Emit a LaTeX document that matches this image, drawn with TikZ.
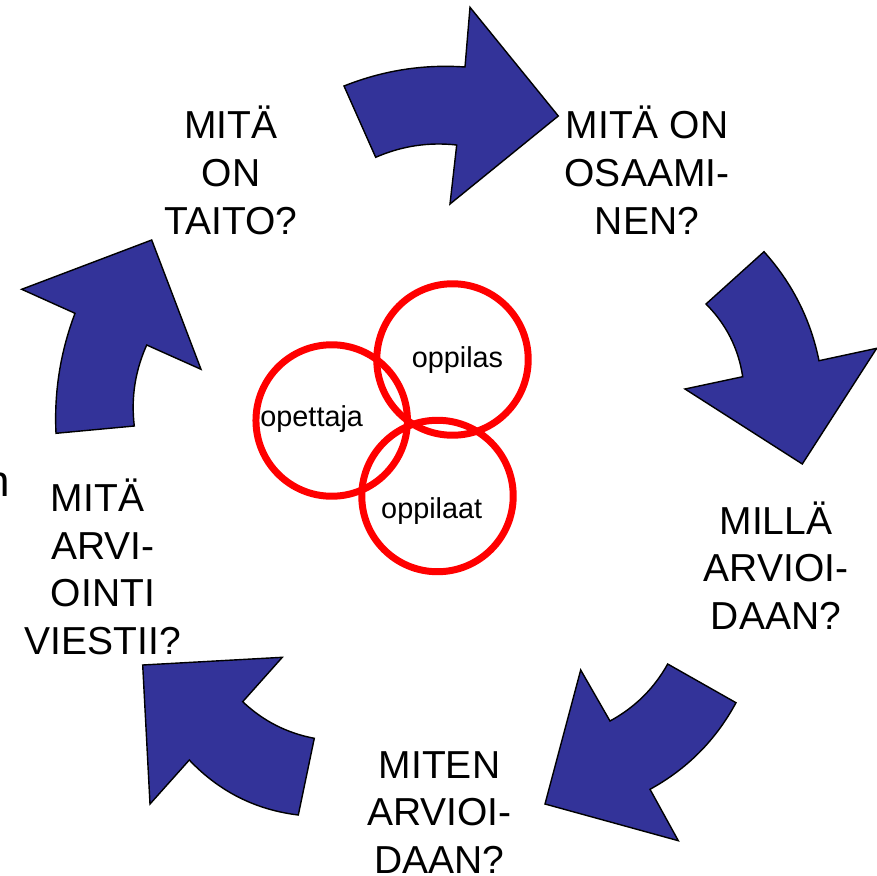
\documentclass[tikz,border=0pt]{standalone}
\usepackage{fontspec}
\setmainfont{Liberation Sans}
\definecolor{arrowblue}{HTML}{333399}
\tikzset{
  cyclearrow/.style={fill=arrowblue, draw=black, line width=0.8pt, line join=miter},
  bigq/.style={font=\fontsize{22.2}{27.1}\selectfont, align=center, inner sep=0pt, anchor=base},
  ring/.style={circle, draw=red, line width=3.97pt, minimum size=3.03cm, inner sep=0pt},
  ringlabel/.style={font=\fontsize{16.4}{19}\selectfont, inner sep=0pt, anchor=base},
}
\begin{document}
\begin{tikzpicture}[x=0.02cm,y=-0.02cm]
\useasboundingbox (0,0) rectangle (877,876);

% curved arrows
\path[cyclearrow] (344,86) .. controls (382.9,70.5) and (423.2,64.1) .. (465,67)
  -- (470,7.3) -- (558.3,116) -- (450,204) -- (456.7,145)
  .. controls (428.6,141.9) and (401.6,146.0) .. (375.7,157.3) -- cycle;
\path[cyclearrow] (764,251.7) .. controls (792.2,283.0) and (810.6,319.4) .. (819,360.7)
  -- (876.7,348.3) -- (802.3,464) -- (685,389) -- (742.7,376.7)
  .. controls (738.5,348.5) and (726.2,324.2) .. (706,304) -- cycle;
\path[cyclearrow] (667.7,664) -- (736,702.7)
  .. controls (715.8,740.1) and (687.2,768.9) .. (650,789.3)
  -- (678.3,840.7) -- (545,804) -- (580.7,670) -- (610,721)
  .. controls (634.7,707.6) and (654.0,688.6) .. (667.7,664) -- cycle;
\path[cyclearrow] (282.3,657.3) -- (142.7,665) -- (150,804) -- (189.3,760)
  .. controls (219.0,791.4) and (255.4,809.8) .. (298.3,815) -- (314.3,738.3)
  .. controls (286.8,733.1) and (263.0,720.9) .. (242.7,701.7) -- cycle;
\path[cyclearrow] (56,433.3) .. controls (54.0,392.0) and (60.4,352.0) .. (75,313.3)
  -- (21.7,289.3) -- (151.7,240) -- (201,369.3) -- (146.7,345)
  .. controls (135.1,370.9) and (130.9,397.9) .. (134.3,426) -- cycle;

% questions (anchored at the baseline of the last line)
\node[bigq] (taito) at (231,234.1) {MITÄ\\ON\hspace*{0.278em}\\TAITO?};
\node[bigq] (osaaminen) at (647,234.1) {MITÄ ON\\OSAAMI-\\NEN?};
\node[bigq] (milla) at (776,629.5) {MILLÄ\\ARVIOI-\\DAAN?};
\node[bigq] (miten) at (439.5,873.5) {MITEN\\ARVIOI-\\DAAN?};
\node[bigq] (viesti) at (103,654.5) {MITÄ\hspace*{0.278em}\\ARVI-\\OINTI\\VIESTII?};
\node[font=\fontsize{25}{30}\selectfont, inner sep=0pt, anchor=base east] (cutn) at (10,496.7) {n};

% rings
\node[ring] (ropettaja) at (331.7,420.5) {};
\node[ring] (roppilas) at (452.5,359.5) {};
\node[ring] (roppilaat) at (437.5,496) {};
\node[ringlabel] (lopettaja) at (311.7,426.7) {opettaja};
\node[ringlabel] (loppilas) at (457.5,367.7) {oppilas};
\node[ringlabel] (loppilaat) at (431.7,518.3) {oppilaat};
\end{tikzpicture}
\end{document}
